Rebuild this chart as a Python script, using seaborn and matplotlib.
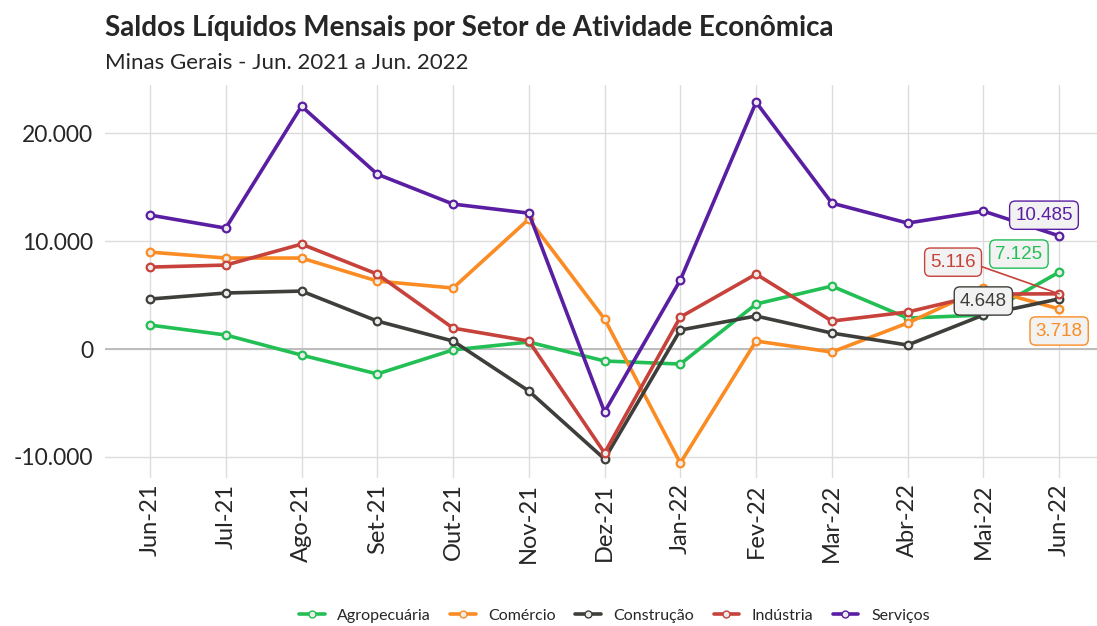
import matplotlib
matplotlib.use('Agg')
import matplotlib.pyplot as plt
from matplotlib.lines import Line2D
from matplotlib.ticker import FuncFormatter
import seaborn as sns
import pandas as pd

# Dados
meses = ['Jun-21', 'Jul-21', 'Ago-21', 'Set-21', 'Out-21', 'Nov-21', 'Dez-21',
         'Jan-22', 'Fev-22', 'Mar-22', 'Abr-22', 'Mai-22', 'Jun-22']
agropecuaria = [2220, 1300, -560, -2310, -80, 650, -1110, -1390, 4170, 5830, 2870, 3150, 7125]
comercio = [8980, 8430, 8430, 6300, 5650, 12040, 2780, -10560, 740, -280, 2410, 5650, 3718]
construcao = [4630, 5190, 5370, 2590, 740, -3890, -10190, 1760, 3060, 1480, 370, 3150, 4648]
industria = [7590, 7780, 9720, 6940, 1940, 740, -9630, 2960, 6940, 2590, 3430, 5090, 5116]
servicos = [12410, 11200, 22500, 16200, 13430, 12590, -5830, 6390, 22870, 13520, 11670, 12780, 10485]

setores = ['Agropecuária', 'Comércio', 'Construção', 'Indústria', 'Serviços']
cores = {'Agropecuária': '#22bf55', 'Comércio': '#fb8c23', 'Construção': '#3e3e3a',
         'Indústria': '#c6423a', 'Serviços': '#5a1ea2'}
series = {'Agropecuária': agropecuaria, 'Comércio': comercio, 'Construção': construcao,
          'Indústria': industria, 'Serviços': servicos}

df = pd.DataFrame({
    'mes': meses * len(setores),
    'pos': list(range(len(meses))) * len(setores),
    'setor': [s for s in setores for _ in meses],
    'valor': [v for s in setores for v in series[s]],
})

sns.set_style('white')
plt.rcParams['font.family'] = ['Lato', 'DejaVu Sans']

fig = plt.figure(figsize=(10.97, 6.26), dpi=100)
ax = fig.add_axes([0.0953, 0.2364, 0.9047, 0.6276])

for s in setores:
    d = df[df['setor'] == s]
    sns.lineplot(data=d, x='pos', y='valor', color=cores[s], linewidth=2.6,
                 marker='o', markersize=5.5, markerfacecolor='#ebebeb',
                 markeredgecolor=cores[s], markeredgewidth=1.6, ax=ax, zorder=3)

# rótulos do último mês
rotulos = {
    'Indústria': (10.6, 8050),
    'Construção': (11.0, 4450),
    'Agropecuária': (11.47, 8800),
    'Serviços': (11.8, 12400),
    'Comércio': (12.0, 1670),
}
ult = len(meses) - 1
for s, (tx, ty) in rotulos.items():
    v = series[s][ult]
    ax.text(tx, ty, f'{v:,}'.replace(',', '.'), color=cores[s], fontsize=13.5,
            family='Liberation Sans', ha='center', va='center', zorder=6,
            bbox=dict(boxstyle='round,pad=0.3', fc='#f2f2f2', ec=cores[s], lw=1))
ax.plot([10.95, ult], [7700, industria[ult]], color=cores['Indústria'], lw=1.2, zorder=4)

ax.set_xlim(-0.6, 12.5)
ax.set_ylim(-11950, 24450)
ax.set_xticks(range(len(meses)))
ax.set_xticklabels(meses, rotation=90, fontsize=17)
ax.set_yticks([-10000, 0, 10000, 20000])
ax.yaxis.set_major_formatter(FuncFormatter(lambda v, p: f'{int(v):,}'.replace(',', '.')))
ax.tick_params(axis='y', labelsize=16.5, length=0, pad=8)
ax.tick_params(axis='x', length=0, pad=4)
ax.set_xlabel('')
ax.set_ylabel('')
ax.grid(True, color='#dcdcdc', linewidth=1)
ax.axhline(0, color='#bdbdbd', linewidth=1.4, zorder=1)
for sp in ax.spines.values():
    sp.set_visible(False)

handles = [Line2D([0], [0], color=cores[s], lw=2.6, marker='o', markersize=5,
                  markerfacecolor='#ebebeb', markeredgecolor=cores[s]) for s in setores]
fig.legend(handles, setores, loc='center', bbox_to_anchor=(0.56, 0.016), ncol=5,
           frameon=False, fontsize=11.5, handlelength=1.6, columnspacing=1.2)

fig.text(0.096, 0.955, 'Saldos Líquidos Mensais por Setor de Atividade Econômica',
         fontsize=20.1, fontweight='bold', va='center')
fig.text(0.096, 0.9, 'Minas Gerais - Jun. 2021 a Jun. 2022', fontsize=16, va='center')

fig.savefig('out.png', dpi=100)
